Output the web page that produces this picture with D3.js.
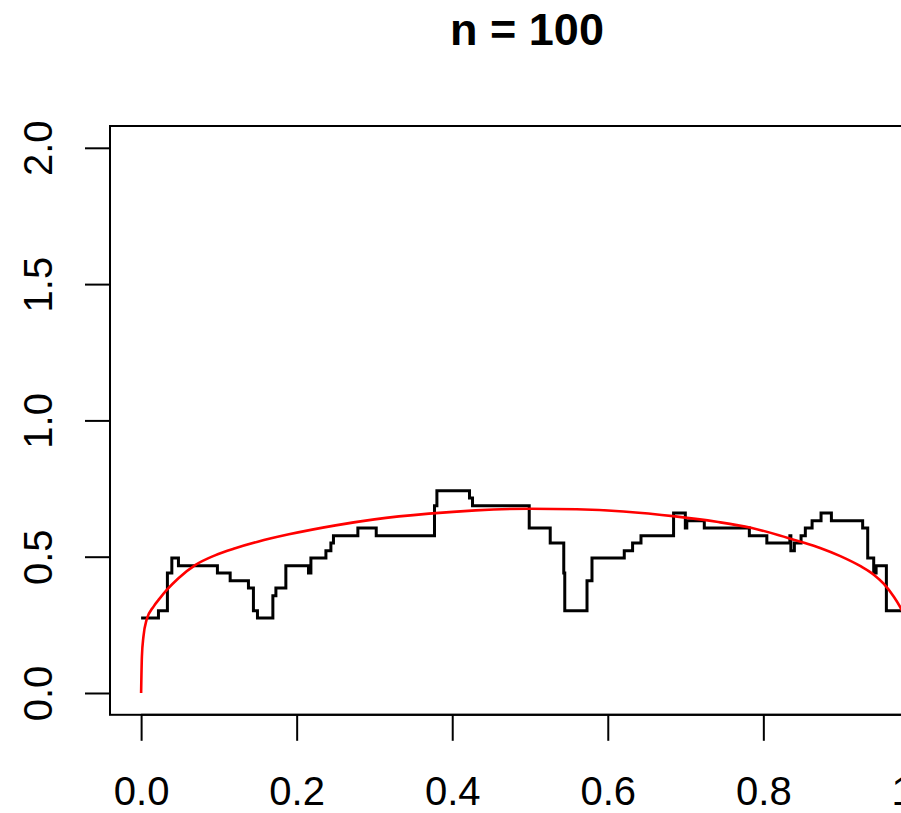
<!DOCTYPE html>
<html>
<head>
<meta charset="utf-8">
<script src="https://cdn.jsdelivr.net/npm/d3@7/dist/d3.min.js"></script>
<style>
  html, body { margin: 0; padding: 0; background: #fff; }
  svg { display: block; }
  text { font-family: "Liberation Sans", Arial, sans-serif; fill: #000; }
</style>
</head>
<body>
<script>
// Step estimate: value holds from each breakpoint to the next
const stepX = [0, 0.0223, 0.0338, 0.0395, 0.048, 0.0981, 0.1145, 0.138, 0.1444, 0.1496,
  0.1694, 0.1733, 0.1861, 0.2152, 0.2183, 0.2376, 0.244, 0.2473, 0.2787, 0.3023,
  0.3772, 0.3803, 0.4222, 0.4261, 0.499, 0.526, 0.5434, 0.5447, 0.5733, 0.5797,
  0.6212, 0.6319, 0.6427, 0.6846, 0.6997, 0.7016, 0.7241, 0.782, 0.8045, 0.8341,
  0.8354, 0.8399, 0.8485, 0.854, 0.8627, 0.8742, 0.8875, 0.9277, 0.9342, 0.9419,
  0.945, 0.9582, 1.0];
const stepY = [0.275, 0.302, 0.44, 0.495, 0.467, 0.44, 0.412, 0.385, 0.302, 0.275,
  0.357, 0.385, 0.467, 0.44, 0.495, 0.522, 0.55, 0.577, 0.605, 0.577,
  0.687, 0.742, 0.715, 0.687, 0.605, 0.55, 0.44, 0.302, 0.412, 0.495,
  0.522, 0.55, 0.577, 0.66, 0.605, 0.632, 0.605, 0.577, 0.55, 0.577,
  0.522, 0.55, 0.577, 0.605, 0.632, 0.66, 0.632, 0.605, 0.495, 0.44,
  0.467, 0.302, 0.302];

// True density curve, sampled
const curveX = [0, 0.001, 0.003, 0.007, 0.016, 0.024, 0.033, 0.048, 0.07, 0.095,
  0.121, 0.15, 0.19, 0.25, 0.30, 0.37, 0.43, 0.50, 0.56, 0.62,
  0.687, 0.74, 0.784, 0.82, 0.848, 0.873, 0.899, 0.925, 0.942, 0.955,
  0.968, 0.976, 0.982];
const curveY = [0, 0.133, 0.207, 0.268, 0.317, 0.347, 0.378, 0.421, 0.47, 0.505,
  0.531, 0.555, 0.582, 0.615, 0.637, 0.658, 0.670, 0.676, 0.674, 0.666,
  0.648, 0.628, 0.606, 0.579, 0.555, 0.532, 0.502, 0.465, 0.434, 0.400,
  0.352, 0.315, 0.28];

const xTicks = [0, 0.2, 0.4, 0.6, 0.8, 1.0];
const yTicks = [0, 0.5, 1.0, 1.5, 2.0];
const titleText = "n = 100";

const W = 901, H = 813;
const box = { left: 110, right: 950, top: 126, bottom: 714.8 };

const x = d3.scaleLinear().domain([-0.04, 1.04]).range([box.left, box.right]);
const y = d3.scaleLinear().domain([-0.08, 2.08]).range([box.bottom, box.top]);

const svg = d3.select("body").append("svg").attr("width", W).attr("height", H);

svg.append("text")
  .attr("x", (box.left + box.right) / 2 - 3)
  .attr("y", 45)
  .attr("text-anchor", "middle")
  .style("font-size", "45px")
  .style("font-weight", "bold")
  .text(titleText);

// plot frame
svg.append("rect")
  .attr("x", box.left).attr("y", box.top)
  .attr("width", box.right - box.left).attr("height", box.bottom - box.top)
  .attr("fill", "none").attr("stroke", "#000").attr("stroke-width", 2);

// x axis
const xAxis = d3.axisBottom(x).tickValues(xTicks).tickSize(26)
  .tickFormat(d3.format(".1f"));
const gx = svg.append("g").attr("transform", `translate(0,${box.bottom})`).call(xAxis);
gx.select(".domain").attr("d", `M${x(0)},0H${x(1)}`).attr("stroke-width", 2);
gx.selectAll(".tick line").attr("stroke-width", 2);
gx.selectAll(".tick text").style("font-size", "40px").style("font-family", "Liberation Sans, Arial, sans-serif")
  .attr("y", 0).attr("dy", 0).attr("transform", "translate(0,90)");

// y axis
const yAxis = d3.axisLeft(y).tickValues(yTicks).tickSize(25)
  .tickFormat(d3.format(".1f"));
const gy = svg.append("g").attr("transform", `translate(${box.left},0)`).call(yAxis);
gy.select(".domain").attr("d", `M0,${y(0)}V${y(2)}`).attr("stroke-width", 2);
gy.selectAll(".tick line").attr("stroke-width", 2);
gy.selectAll(".tick text")
  .style("font-size", "40px").style("font-family", "Liberation Sans, Arial, sans-serif")
  .attr("x", 0).attr("dy", 0)
  .attr("text-anchor", "middle")
  .attr("transform", "translate(-58,0) rotate(-90)");

// step estimate
const stepPts = stepX.map((v, i) => [v, stepY[i]]);
svg.append("path")
  .datum(stepPts)
  .attr("fill", "none").attr("stroke", "#000").attr("stroke-width", 3)
  .attr("d", d3.line().x(d => x(d[0])).y(d => y(d[1])).curve(d3.curveStepAfter));

// density curve
const curvePts = curveX.map((v, i) => [v, curveY[i]]);
svg.append("path")
  .datum(curvePts)
  .attr("fill", "none").attr("stroke", "#ff0000").attr("stroke-width", 2.6)
  .attr("d", d3.line().x(d => x(d[0])).y(d => y(d[1])).curve(d3.curveMonotoneX));
</script>
</body>
</html>
